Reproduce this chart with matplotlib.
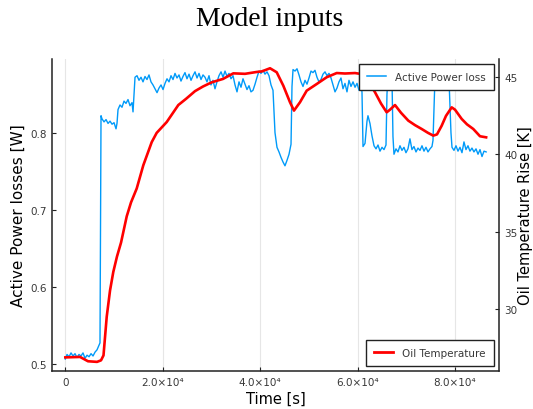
import matplotlib.pyplot as plt
from matplotlib.lines import Line2D

# measured power loss [W] over one day
time_power = [
    0, 350, 760, 1170, 1580, 1990, 2400, 2810, 3220, 3630, 4040, 4460, 4870, 5280,
    5690, 6100, 6510, 6920, 7120, 7330, 7530, 7950, 8360, 8770, 9180, 9590, 10000,
    10410, 10610, 10820, 11230, 11640, 12050, 12460, 12870, 13280, 13690, 13900,
    14310, 14720, 15130, 15540, 15950, 16360, 16770, 17180, 17590, 18000, 18420,
    18830, 19240, 19650, 20060, 20470, 20880, 21290, 21700, 22110, 22520, 22930,
    23340, 23750, 24160, 24570, 24980, 25400, 25810, 26220, 26630, 27040, 27450,
    27860, 28270, 28680, 29090, 29500, 29910, 30320, 30730, 31140, 31550, 31970,
    32380, 32790, 33200, 33610, 34020, 34430, 34840, 35250, 35660, 36070, 36480,
    36890, 37300, 37710, 38120, 38530, 38950, 39360, 39770, 40180, 40590, 41000,
    41410, 41820, 42230, 42640, 43050, 43460, 43870, 44280, 44690, 45100, 45510,
    45930, 46340, 46540, 46750, 47160, 47570, 47980, 48390, 48800, 49210, 49620,
    50030, 50440, 50850, 51260, 51670, 52080, 52490, 52910, 53320, 53730, 54140,
    54550, 54960, 55370, 55780, 56190, 56600, 57010, 57420, 57830, 58240, 58650,
    59070, 59480, 59890, 60300, 60710, 60910, 61120, 61530, 61940, 62140, 62550,
    62960, 63380, 63790, 64200, 64610, 65020, 65430, 65840, 66040, 66250, 66660,
    67070, 67270, 67480, 67890, 68300, 68710, 69120, 69530, 69940, 70350, 70760,
    71170, 71580, 72000, 72410, 72820, 73230, 73640, 74050, 74460, 74870, 75280,
    75490, 75900, 76310, 76930, 77540, 78160, 78770, 79180, 79390, 79800, 80210,
    80620, 81030, 81440, 81850, 82260, 82670, 83080, 83490, 83900, 84320, 84730,
    85140, 85550, 85960, 86400,
]
power_loss = [
    0.506, 0.512, 0.509, 0.514, 0.510, 0.513, 0.508, 0.512, 0.510, 0.514, 0.507,
    0.511, 0.509, 0.513, 0.510, 0.515, 0.518, 0.524, 0.527, 0.822, 0.818, 0.814,
    0.817, 0.812, 0.815, 0.811, 0.813, 0.805, 0.812, 0.830, 0.836, 0.833, 0.841,
    0.838, 0.843, 0.835, 0.839, 0.827, 0.872, 0.874, 0.868, 0.872, 0.866, 0.873,
    0.869, 0.875, 0.866, 0.862, 0.857, 0.852, 0.858, 0.862, 0.856, 0.864, 0.870,
    0.866, 0.874, 0.869, 0.877, 0.871, 0.875, 0.867, 0.873, 0.878, 0.870, 0.876,
    0.868, 0.874, 0.879, 0.871, 0.877, 0.869, 0.875, 0.872, 0.866, 0.874, 0.862,
    0.868, 0.857, 0.866, 0.874, 0.879, 0.872, 0.880, 0.873, 0.877, 0.870, 0.874,
    0.862, 0.853, 0.866, 0.859, 0.870, 0.863, 0.856, 0.861, 0.853, 0.855, 0.863,
    0.872, 0.880, 0.877, 0.881, 0.876, 0.879, 0.874, 0.862, 0.855, 0.800, 0.781,
    0.775, 0.768, 0.762, 0.757, 0.764, 0.772, 0.785, 0.860, 0.882, 0.880, 0.883,
    0.875, 0.866, 0.860, 0.868, 0.863, 0.871, 0.880, 0.878, 0.881, 0.872, 0.866,
    0.869, 0.876, 0.879, 0.874, 0.877, 0.871, 0.862, 0.853, 0.858, 0.866, 0.871,
    0.857, 0.864, 0.853, 0.868, 0.860, 0.866, 0.859, 0.864, 0.855, 0.860, 0.853,
    0.782, 0.786, 0.815, 0.822, 0.812, 0.796, 0.783, 0.779, 0.784, 0.776, 0.781,
    0.778, 0.784, 0.850, 0.873, 0.876, 0.870, 0.795, 0.772, 0.779, 0.775, 0.783,
    0.777, 0.781, 0.774, 0.779, 0.792, 0.778, 0.782, 0.775, 0.780, 0.777, 0.783,
    0.776, 0.781, 0.775, 0.779, 0.782, 0.790, 0.872, 0.876, 0.873, 0.877, 0.874,
    0.870, 0.800, 0.781, 0.777, 0.783, 0.776, 0.781, 0.774, 0.788, 0.778, 0.783,
    0.776, 0.780, 0.775, 0.779, 0.772, 0.778, 0.769, 0.776, 0.775,
]

# oil temperature rise [K]
time_oil = [
    0, 3020, 4660, 6510, 7330, 7840, 8500, 9180, 9850, 10610, 11440, 12610, 13490,
    14660, 16010, 17740, 18760, 20820, 23200, 24780, 26630, 28270, 30060, 32380,
    34490, 36890, 39290, 40380, 42030, 43400, 44760, 46130, 46950, 48180, 49560,
    51610, 53670, 55720, 57420, 59480, 60500, 61530, 62560, 63580, 64810, 65980,
    66660, 67690, 68920, 70420, 71790, 73170, 74460, 75550, 76310, 77270, 78160,
    79330, 80010, 81380, 82470, 83760, 85140, 86400,
]
oil_temp = [
    26.87, 26.90, 26.62, 26.58, 26.68, 27.00, 29.5, 31.2, 32.4, 33.4, 34.3, 36.0,
    36.9, 37.8, 39.3, 40.8, 41.4, 42.1, 43.2, 43.6, 44.1, 44.4, 44.67, 44.89,
    45.25, 45.22, 45.34, 45.38, 45.58, 45.32, 44.45, 43.38, 42.84, 43.38, 44.13,
    44.56, 45.0, 45.27, 45.24, 45.27, 45.22, 45.0, 44.55, 44.03, 43.3, 42.73,
    42.9, 43.2, 42.7, 42.19, 41.9, 41.65, 41.4, 41.22, 41.3, 41.86, 42.5, 43.05,
    42.9, 42.3, 41.95, 41.65, 41.18, 41.11,
]

x_ticks = [0, 20000, 40000, 60000, 80000]
x_tick_labels = ['0', '2.0×10⁴', '4.0×10⁴', '6.0×10⁴', '8.0×10⁴']
power_ticks = [0.5, 0.6, 0.7, 0.8]
power_tick_labels = ['0.5', '0.6', '0.7', '0.8']
temp_ticks = [30, 35, 40, 45]
temp_tick_labels = ['30', '35', '40', '45']

BLUE = '#009af9'
RED = '#ff0000'
TICK_COLOR = '#383838'

fig = plt.figure(figsize=(5.33, 4.10), dpi=100)
ax = fig.add_axes([0.0976, 0.0927, 0.8386, 0.761])
ax2 = ax.twinx()

ax.plot(time_power, power_loss, color=BLUE, lw=1.0)
ax2.plot(time_oil, oil_temp, color=RED, lw=1.9, solid_joinstyle='round')

ax.set_xlim(-2730, 89040)
ax.set_ylim(0.4905, 0.8957)
ax2.set_ylim(25.99, 46.18)

ax.set_xticks(x_ticks)
ax.set_xticklabels(x_tick_labels)
ax.set_yticks(power_ticks)
ax.set_yticklabels(power_tick_labels)
ax2.set_yticks(temp_ticks)
ax2.set_yticklabels(temp_tick_labels)

for a in (ax, ax2):
    a.tick_params(direction='in', length=3, width=0.8, labelsize=7.5,
                  labelcolor=TICK_COLOR, color='#222222', pad=4)
    a.spines['top'].set_visible(False)
    for s in ('left', 'right', 'bottom'):
        a.spines[s].set_linewidth(1.1)
        a.spines[s].set_color('#222222')
ax.spines['right'].set_visible(False)
ax2.spines['left'].set_visible(False)
ax2.spines['bottom'].set_visible(False)

ax.grid(axis='x', color='#e6e6e6', lw=0.8)
ax.set_axisbelow(True)

ax.set_xlabel('Time [s]', fontsize=10.5, labelpad=3)
ax.set_ylabel('Active Power losses [W]', fontsize=11, labelpad=3)
ax2.set_ylabel('Oil Temperature Rise [K]', fontsize=10.5, labelpad=0.5)

fig.text(0.505, 0.952, 'Model inputs', ha='center', va='center',
         fontsize=20, family='Liberation Serif')

# both legends live on the twin axes so they sit above the lines
h_power = Line2D([], [], color=BLUE, lw=1.1)
h_oil = Line2D([], [], color=RED, lw=2.0)
leg_kw = dict(fontsize=7.5, frameon=True, fancybox=False, framealpha=1,
              edgecolor='#222222', handlelength=1.8, handletextpad=0.9,
              borderpad=0.8, borderaxespad=0.45)
leg1 = ax2.legend([h_power], ['Active Power loss'], loc='upper right', **leg_kw)
leg1.get_frame().set_linewidth(1.0)
ax2.add_artist(leg1)
leg2 = ax2.legend([h_oil], ['Oil Temperature'], loc='lower right', **leg_kw)
leg2.get_frame().set_linewidth(1.0)
for t in leg1.get_texts() + leg2.get_texts():
    t.set_color(TICK_COLOR)

fig.savefig('out.png', dpi=100)
